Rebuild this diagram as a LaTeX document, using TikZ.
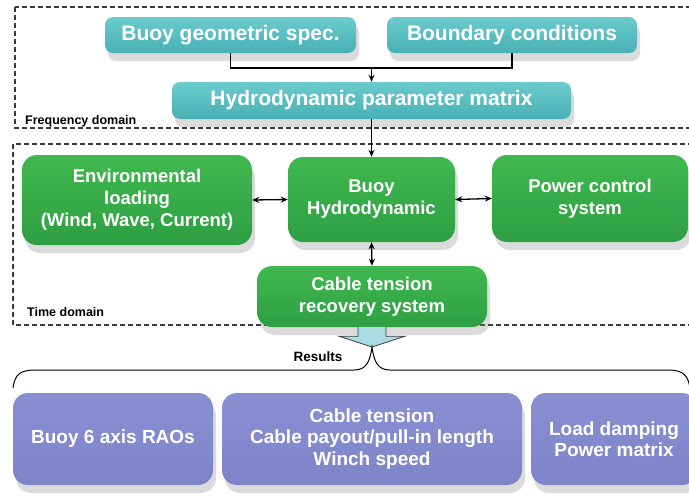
\documentclass[tikz,border=0pt]{standalone}
\usepackage{fontspec}
\setmainfont{Liberation Sans}
\usetikzlibrary{arrows.meta,positioning,shadows,calc}
\definecolor{tealtop}{HTML}{6CCBCD}
\definecolor{tealbot}{HTML}{48B0B4}
\definecolor{greentop}{HTML}{40B84E}
\definecolor{greenbot}{HTML}{2E9F43}
\definecolor{lilac}{HTML}{8A8FD2}
\definecolor{lilacbot}{HTML}{7F84C9}
\definecolor{framegray}{HTML}{3C3C3C}
\definecolor{hollow}{HTML}{A9DDE3}

\begin{document}
\begin{tikzpicture}[x=1pt,y=-1pt,
  box/.style={rounded corners=8pt,align=center,text=white,inner sep=0pt,
    drop shadow={shadow xshift=3pt,shadow yshift=-8pt,opacity=0.28}},
  tbox/.style={box,top color=tealtop,bottom color=tealbot,minimum height=36pt,font=\fontsize{21}{24}\selectfont\bfseries},
  gbox/.style={box,rounded corners=15pt,top color=greentop,bottom color=greenbot,font=\fontsize{18.5}{22}\selectfont\bfseries},
  pbox/.style={box,rounded corners=15pt,top color=lilac,bottom color=lilacbot,minimum height=92pt,font=\fontsize{19}{21.5}\selectfont\bfseries},
  zone/.style={draw=framegray,dash pattern=on 5pt off 3pt,line width=1.2pt},
  zlab/.style={font=\fontsize{12.5}{14}\selectfont\bfseries,inner sep=0pt},
  arr/.style={-{Stealth[length=7pt,width=6pt]},line width=1.3pt},
  both/.style={{Stealth[length=7pt,width=6pt]}-{Stealth[length=7pt,width=6pt]},line width=1.3pt}]
\clip (0,0) rectangle (689,498);
\fill[white] (0,0) rectangle (689,498);
\draw[zone] (15,7) rectangle (720,128);
\draw[zone] (13,144) rectangle (720,325);
\node[zlab,anchor=west] (freq) at (25,121) {Frequency domain};
\node[zlab,anchor=west] (time) at (27,312) {Time domain};
\node[tbox,minimum width=251pt] (geo) at (230.5,35) {Buoy geometric spec.};
\node[tbox,minimum width=250pt] (bnd) at (512,35) {Boundary conditions};
\node[tbox,minimum width=399pt,minimum height=37pt] (hyd) at (371.5,100.5) {Hydrodynamic parameter matrix};
\node[gbox,minimum width=230pt,minimum height=90pt] (env) at (137,200) {Environmental\\loading\\(Wind, Wave, Current)};
\node[gbox,minimum width=167pt,minimum height=85pt] (buoy) at (371.5,199.5) {Buoy\\Hydrodynamic};
\node[gbox,minimum width=196pt,minimum height=87pt] (power) at (590,198.5) {Power control\\system};
\node[gbox,minimum width=230pt,minimum height=61pt] (cable) at (372,296.5) {Cable tension\\recovery system};
\node[pbox,minimum width=200pt] (rao) at (113,439) {Buoy 6 axis RAOs};
\node[pbox,minimum width=300pt] (tension) at (372,439) {Cable tension\\Cable payout/pull-in length\\Winch speed};
\node[pbox,minimum width=166pt] (damp) at (614,439) {Load damping\\Power matrix};
\node[zlab,font=\fontsize{13.5}{15}\selectfont\bfseries] (res) at (318,357) {Results};
\coordinate (join) at (371.5,68);
\coordinate (peak) at (372,347);
\draw[line width=1.3pt] (geo.south) |- (join);
\draw[line width=1.3pt] (bnd.south) |- (join);
\draw[arr] (join) -- (hyd.north);
\draw[arr] (hyd.south) -- (buoy.north);
\draw[both] (env.east) -- (buoy.west);
\draw[both] (buoy.east) -- (power.west);
\draw[both] (buoy.south) -- (cable.north);
\draw[draw=framegray,fill=hollow,line width=0.8pt] ($(cable.south)+(-14,0)$) -- ++(0,9) -- ++(-19,0)
  -- (peak) -- ($(cable.south)+(33,9)$) -- ++(-19,0) -- ++(0,-9);
\draw[line width=1pt] (13,388) .. controls (15,374) and (20,370) .. (36,370) -- (354,370)
  .. controls (366,370) and (370,362) .. (peak) .. controls (374,362) and (378,370) .. (390,370)
  -- (668,370) .. controls (684,370) and (688,376) .. (690,388);
\end{tikzpicture}
\end{document}
